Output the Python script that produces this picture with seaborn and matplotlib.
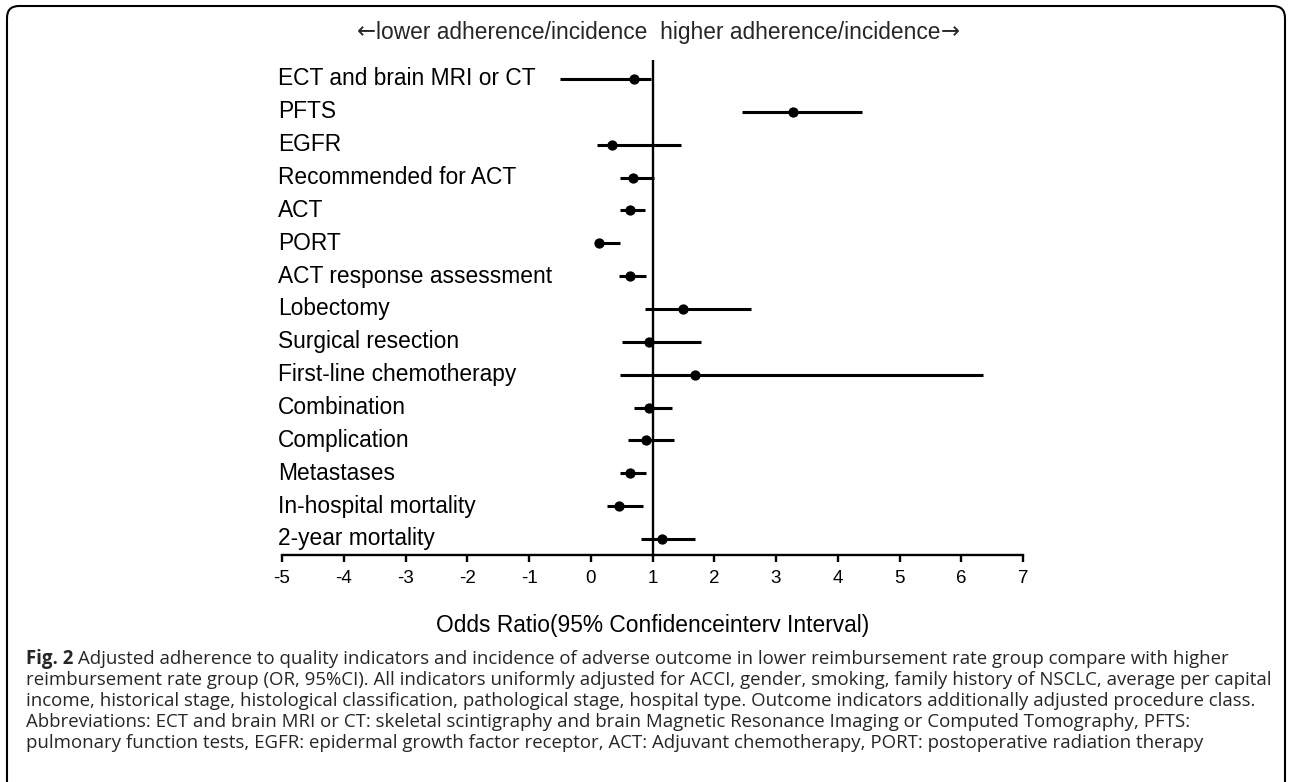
import numpy as np
import pandas as pd
import seaborn as sns
import matplotlib.pyplot as plt
from matplotlib.patches import FancyBboxPatch
from matplotlib.transforms import IdentityTransform

# Indicators, top to bottom, with odds ratio and 95% CI
labels = ['ECT and brain MRI or CT', 'PFTS', 'EGFR', 'Recommended for ACT', 'ACT',
          'PORT', 'ACT response assessment', 'Lobectomy', 'Surgical resection',
          'First-line chemotherapy', 'Combination', 'Complication', 'Metastases',
          'In-hospital mortality', '2-year mortality']
odds = [0.70, 3.27, 0.34, 0.69, 0.63, 0.13, 0.63, 1.50, 0.94, 1.69, 0.94, 0.89, 0.64, 0.46, 1.16]
ci_low = [-0.50, 2.45, 0.10, 0.48, 0.48, 0.10, 0.46, 0.88, 0.50, 0.47, 0.70, 0.60, 0.48, 0.26, 0.81]
ci_high = [0.97, 4.40, 1.46, 1.02, 0.88, 0.48, 0.90, 2.60, 1.79, 6.35, 1.31, 1.35, 0.90, 0.84, 1.69]
xticks = list(range(-5, 8))

title_text = 'lower adherence/incidence  higher adherence/incidence'
xlabel = 'Odds Ratio(95% Confidenceinterv Interval)'
caption_lines = [
    'Adjusted adherence to quality indicators and incidence of adverse outcome in lower reimbursement rate group compare with higher',
    'reimbursement rate group (OR, 95%CI). All indicators uniformly adjusted for ACCI, gender, smoking, family history of NSCLC, average per capital',
    'income, historical stage, histological classification, pathological stage, hospital type. Outcome indicators additionally adjusted procedure class.',
    'Abbreviations: ECT and brain MRI or CT: skeletal scintigraphy and brain Magnetic Resonance Imaging or Computed Tomography, PFTS:',
    'pulmonary function tests, EGFR: epidermal growth factor receptor, ACT: Adjuvant chemotherapy, PORT: postoperative radiation therapy',
]

sns.set_theme(style='white')
plt.rcParams['font.family'] = ['Liberation Sans', 'DejaVu Sans']

W, H = 1292, 782
FS = 16.4
fig = plt.figure(figsize=(W / 100, H / 100), dpi=100)
ax = fig.add_axes([282 / W, 1 - 555 / H, 741 / W, 495 / H])
renderer = fig.canvas.get_renderer()

df = pd.DataFrame({'Indicator': labels, 'OR': odds, 'Low': ci_low, 'High': ci_high})
df['Row'] = np.arange(len(df))

# CI bars, points and the reference line at OR = 1
ax.hlines(df['Row'], df['Low'], df['High'], color='black', lw=2.2, zorder=2)
sns.scatterplot(data=df, x='OR', y='Row', color='black', s=55,
                linewidth=0, zorder=3, ax=ax)
ax.axvline(1, color='black', lw=1.7, zorder=1)

# Indicator names sit inside the plot, left aligned at x = -5
for i, lab in enumerate(labels):
    ax.text(-5.06, i, lab, ha='left', va='center', fontsize=FS, color='black')

ax.set_xlim(-5, 7)
ax.set_ylim(14.487, -0.578)
ax.set_xticks(xticks)
ax.set_xticklabels([str(t) for t in xticks])
ax.set_yticks([])
ax.set_ylabel('')
ax.set_xlabel(xlabel, fontsize=FS, labelpad=19, color='black')
ax.tick_params(axis='x', bottom=True, direction='out', length=5, width=1.7,
               labelsize=13.5, pad=6, colors='black')
for side in ['top', 'right', 'left']:
    ax.spines[side].set_visible(False)
ax.spines['bottom'].set_linewidth(1.7)
ax.spines['bottom'].set_color('black')
ax.patch.set_alpha(0)

# Title with long arrows on both ends, centred as one line
ty = 1 - 32 / H
mid = fig.text(0, ty, title_text, ha='left', va='center', fontsize=FS)
la = fig.text(0, ty, '\u2190', ha='left', va='center', fontsize=FS, family='DejaVu Sans')
ra = fig.text(0, ty, '\u2192', ha='left', va='center', fontsize=FS, family='DejaVu Sans')
wl = la.get_window_extent(renderer).width
wm = mid.get_window_extent(renderer).width
wr = ra.get_window_extent(renderer).width
start = 658 - (wl + wm + wr) / 2
la.set_x(start / W)
mid.set_x((start + wl) / W)
ra.set_x((start + wl + wm) / W)

# Caption below the chart
cap_family = ['Open Sans', 'DejaVu Sans']
widths = []
for line in caption_lines[1:]:
    probe = fig.text(0, 0, line, fontsize=10, family=cap_family)
    widths.append(probe.get_window_extent(renderer).width)
    probe.remove()
cap_size = 10 * 1243 / max(widths)

line_y = [659, 680, 701, 722, 743]
x0 = 26 / W
fig_tag = fig.text(x0, 1 - line_y[0] / H, 'Fig. 2', fontsize=cap_size, family=cap_family,
                   fontweight='bold', ha='left', va='center')
tag_w = fig_tag.get_window_extent(renderer).width
fig.text(x0 + (tag_w + cap_size * 0.35) / W, 1 - line_y[0] / H, caption_lines[0],
         fontsize=cap_size, family=cap_family, ha='left', va='center')
for yy, line in zip(line_y[1:], caption_lines[1:]):
    fig.text(x0, 1 - yy / H, line, fontsize=cap_size, family=cap_family,
             ha='left', va='center')

# Rounded frame open at the bottom
frame = FancyBboxPatch((7, -30), 1278, H - 6 + 30, boxstyle='round,pad=0,rounding_size=12',
                       transform=IdentityTransform(), fill=False, lw=1.5, ec='black')
fig.add_artist(frame)

fig.savefig('out.png', dpi=100)
